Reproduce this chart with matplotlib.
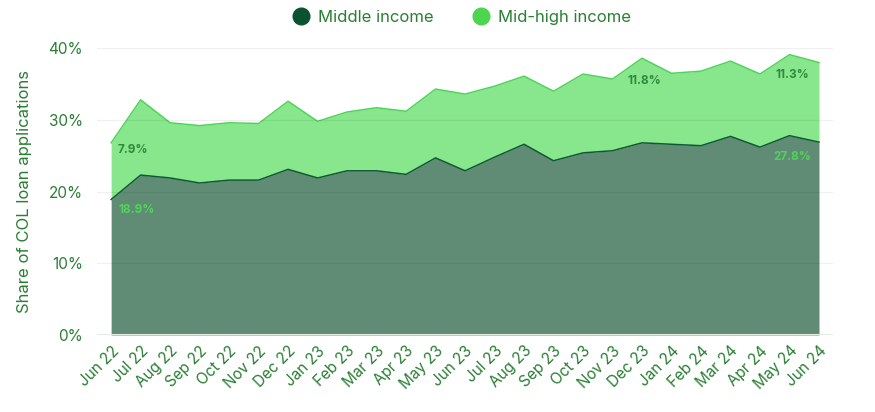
import matplotlib.pyplot as plt
import numpy as np

plt.rcParams['font.family'] = ['Inter', 'DejaVu Sans']

months = ["Jun 22", "Jul 22", "Aug 22", "Sep 22", "Oct 22", "Nov 22", "Dec 22",
          "Jan 23", "Feb 23", "Mar 23", "Apr 23", "May 23", "Jun 23", "Jul 23",
          "Aug 23", "Sep 23", "Oct 23", "Nov 23", "Dec 23", "Jan 24", "Feb 24",
          "Mar 24", "Apr 24", "May 24", "Jun 24"]
middle = [18.9, 22.3, 21.9, 21.2, 21.6, 21.6, 23.1, 21.9, 22.9, 22.9, 22.4, 24.7, 22.9,
          24.8, 26.6, 24.3, 25.4, 25.7, 26.8, 26.6, 26.4, 27.7, 26.2, 27.8, 26.9]
mid_high = [7.9, 10.5, 7.7, 8.0, 8.0, 7.9, 9.5, 7.9, 8.2, 8.8, 8.8, 9.6, 10.7,
            9.9, 9.5, 9.7, 11.0, 10.0, 11.8, 9.9, 10.4, 10.5, 10.2, 11.3, 11.1]
# (month index, series) of the annotated points
labels = [(0, "mid_high"), (0, "middle"), (18, "mid_high"), (23, "mid_high"), (23, "middle")]

c_mid_fill = '#608c75'
c_mid_line = '#0e5a33'
c_hi_fill = '#88e68c'
c_hi_line = '#4fd45a'
c_text = '#2a7f34'

x = np.arange(len(months))
middle = np.array(middle)
total = middle + np.array(mid_high)

fig = plt.figure(figsize=(8.75, 4.12), dpi=100)
ax = fig.add_axes([0.111, 0.187, 0.841, 0.696])

ax.fill_between(x, middle, total, color=c_hi_fill, lw=0, zorder=1)
ax.plot(x, total, color=c_hi_line, lw=1.1, zorder=2)
ax.fill_between(x, 0, middle, color=c_mid_fill, lw=0, zorder=1)
ax.plot(x, middle, color=c_mid_line, lw=1.1, zorder=2)

for yv in [10, 20, 30, 40]:
    ax.axhline(yv, color='#000000', alpha=0.06, lw=0.9, zorder=3)
ax.axhline(0, color='#e3ece3', lw=1.5, zorder=3)

# offsets of the labels below their line, in points
offsets = [1, 3, 12, 10.5, 11]
for (i, kind), off in zip(labels, offsets):
    if kind == "mid_high":
        val, ypos, col = mid_high[i], total[i], '#2f8a3c'
    else:
        val, ypos, col = middle[i], middle[i], '#4fd45a'
    ax.annotate(f"{val:.1f}%", (x[i], ypos),
                xytext=(5 if i == 0 else 2, -off), textcoords='offset points',
                ha='left' if i == 0 else 'center', va='top',
                fontsize=8.5, fontweight='bold', color=col, zorder=4)

ax.set_xlim(-0.475, len(months) - 1 + 0.475)
ax.set_ylim(0, 40)
ax.set_yticks([0, 10, 20, 30, 40])
ax.set_yticklabels([f"{v}%" for v in [0, 10, 20, 30, 40]])
ax.set_xticks(x)
ax.set_xticklabels(months, rotation=45, ha='right', rotation_mode='anchor')
ax.tick_params(axis='both', length=0, labelsize=11, colors=c_text)
ax.tick_params(axis='x', pad=6)
ax.tick_params(axis='y', pad=10)
for s in ax.spines.values():
    s.set_visible(False)

ax.set_ylabel("Share of COL loan applications", fontsize=12, color=c_text, labelpad=12)

h1 = plt.Line2D([], [], marker='o', ls='', color='#0b5230', markersize=12)
h2 = plt.Line2D([], [], marker='o', ls='', color='#4cd64f', markersize=12)
leg = fig.legend([h1, h2], ["Middle income", "Mid-high income"], loc='upper center',
                 bbox_to_anchor=(0.527, 1.012), ncol=2, frameon=False, fontsize=12,
                 handletextpad=0.45, columnspacing=2.2, handlelength=1.2)
for t in leg.get_texts():
    t.set_color(c_text)

fig.savefig("out.png", dpi=100)
